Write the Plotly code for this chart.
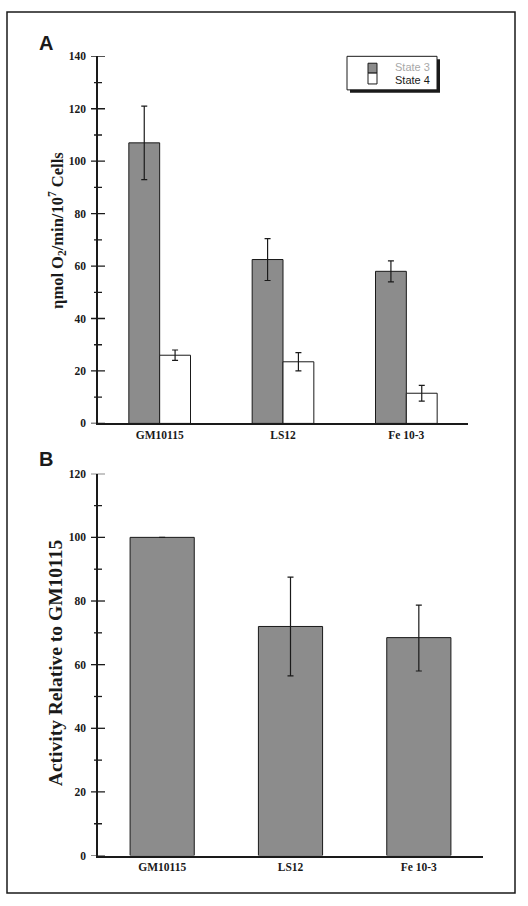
import plotly.graph_objects as go

categories = ["GM10115", "LS12", "Fe 10-3"]

# Panel A: oxygen consumption (nmol O2/min/10^7 cells)
state3 = [107, 62.5, 58]
state3_err = [14, 8, 4]
state4 = [26, 23.5, 11.5]
state4_err = [2, 3.5, 3]

# Panel B: activity relative to GM10115
relative = [100, 72, 68.5]
relative_err_plus = [None, 15.5, 10.2]
relative_err_minus = [None, 15.5, 10.5]

yticks_a = [0, 20, 40, 60, 80, 100, 120, 140]
yminor_a = [10, 30, 50, 70, 90, 110, 130]
yticks_b = [0, 20, 40, 60, 80, 100, 120]
yminor_b = [10, 30, 50, 70, 90, 110]

legend_labels = ["State 3", "State 4"]

W, H = 528, 906
GRAY = "#8c8c8c"
SERIF = "Liberation Serif"
SANS = "Liberation Sans"
INK = "#1a1a1a"
AXIS_X = 98  # pixel column of the y axis line

def px_x(v):
    return v / W

def px_y(v):
    return 1 - v / H

fig = go.Figure()

fig.add_trace(go.Bar(
    x=categories, y=state3, name=legend_labels[0], showlegend=False,
    marker=dict(color=GRAY, line=dict(color=INK, width=1)),
    error_y=dict(type="data", array=state3_err, color=INK, thickness=1.2, width=3),
    xaxis="x", yaxis="y", offsetgroup="s3",
))
fig.add_trace(go.Bar(
    x=categories, y=state4, name=legend_labels[1], showlegend=False,
    marker=dict(color="white", line=dict(color=INK, width=1)),
    error_y=dict(type="data", array=state4_err, color=INK, thickness=1.2, width=3),
    xaxis="x", yaxis="y", offsetgroup="s4",
))
fig.add_trace(go.Bar(
    x=categories, y=relative, showlegend=False,
    marker=dict(color=GRAY, line=dict(color=INK, width=1)),
    error_y=dict(type="data", array=relative_err_plus, arrayminus=relative_err_minus,
                 color=INK, thickness=1.2, width=3),
    xaxis="x2", yaxis="y2",
))

tickfont = dict(family=SERIF, size=11.5, color=INK, weight="bold")

def yaxis(domain, rng, ticks, anchor):
    return dict(
        domain=domain, range=rng, tickmode="array", tickvals=ticks, anchor=anchor,
        showgrid=False, zeroline=False, showline=True, linecolor=INK, linewidth=1.5,
        ticks="", tickfont=tickfont, ticklabelstandoff=8,
    )

def xaxis(domain, anchor):
    return dict(
        domain=domain, anchor=anchor, type="category", range=[-0.5, 2.5],
        showgrid=False, zeroline=False, showline=True, linecolor=INK, linewidth=1.5,
        ticks="", tickfont=tickfont,
    )

ydom_a = [px_y(423), px_y(51)]
ydom_b = [px_y(861), px_y(474)]

def paper_rect(x0, y0, x1, y1, fill, line_color, line_width):
    return dict(type="rect", xref="paper", yref="paper",
                x0=px_x(x0), x1=px_x(x1), y0=px_y(y1), y1=px_y(y0),
                fillcolor=fill, line=dict(color=line_color, width=line_width))

def tick_marks(values, yref, half):
    # crossing tick marks placed through the axis' own data scale
    return [dict(type="line", xref="paper", yref=yref,
                 x0=px_x(AXIS_X - half), x1=px_x(AXIS_X + half), y0=v, y1=v,
                 line=dict(color=INK, width=1.3))
            for v in values]

shapes = [
    # outer frame
    paper_rect(7, 6, 515, 899, "rgba(0,0,0,0)", INK, 1.5),
    # legend shadow + box
    paper_rect(350, 54, 440, 88, INK, INK, 0),
    paper_rect(347, 51, 437, 85, "white", INK, 1),
    # legend swatches
    paper_rect(368, 58, 377, 68, GRAY, INK, 1),
    paper_rect(368, 68, 377, 79, "white", INK, 1),
]
shapes += tick_marks(yticks_a, "y", 7) + tick_marks(yminor_a, "y", 4)
shapes += tick_marks(yticks_b, "y2", 7) + tick_marks(yminor_b, "y2", 4)

annotations = [
    dict(text="<b>A</b>", x=px_x(46), y=px_y(37), xref="paper", yref="paper",
         xanchor="center", yanchor="middle",
         showarrow=False, font=dict(family=SANS, size=20, color=INK)),
    dict(text="<b>B</b>", x=px_x(46), y=px_y(459), xref="paper", yref="paper",
         xanchor="center", yanchor="middle",
         showarrow=False, font=dict(family=SANS, size=20, color=INK)),
    dict(text="<b>ηmol O<sub>2</sub>/min/10<sup>7</sup> Cells</b>",
         x=px_x(57), y=px_y(228), xref="paper", yref="paper", textangle=-90,
         xanchor="center", yanchor="middle",
         showarrow=False, font=dict(family=SERIF, size=16.5, color=INK)),
    dict(text="<b>Activity Relative to GM10115</b>",
         x=px_x(55), y=px_y(666), xref="paper", yref="paper", textangle=-90,
         xanchor="center", yanchor="middle",
         showarrow=False, font=dict(family=SERIF, size=19.5, color=INK)),
    dict(text=legend_labels[0], x=px_x(393), y=px_y(61.5), xref="paper", yref="paper",
         xanchor="left", yanchor="middle", showarrow=False,
         font=dict(family=SANS, size=11, color="#a8a8a8")),
    dict(text=legend_labels[1], x=px_x(393), y=px_y(74.5), xref="paper", yref="paper",
         xanchor="left", yanchor="middle", showarrow=False,
         font=dict(family=SANS, size=11, color=INK)),
]

fig.update_layout(
    width=W, height=H,
    margin=dict(l=0, r=0, t=0, b=0),
    paper_bgcolor="white", plot_bgcolor="rgba(0,0,0,0)",
    barmode="group", bargap=0.5, bargroupgap=0,
    xaxis=xaxis([px_x(AXIS_X), px_x(468)], "y"),
    yaxis=yaxis(ydom_a, [0, 140], yticks_a, "x"),
    xaxis2=xaxis([px_x(AXIS_X), px_x(483)], "y2"),
    yaxis2=yaxis(ydom_b, [0, 120], yticks_b, "x2"),
    showlegend=False,
    annotations=annotations,
    shapes=shapes,
)

fig.write_html(
    "out.html",
    config={"displayModeBar": False},
    post_script="document.body.style.margin='0';document.body.style.overflow='hidden';",
)
